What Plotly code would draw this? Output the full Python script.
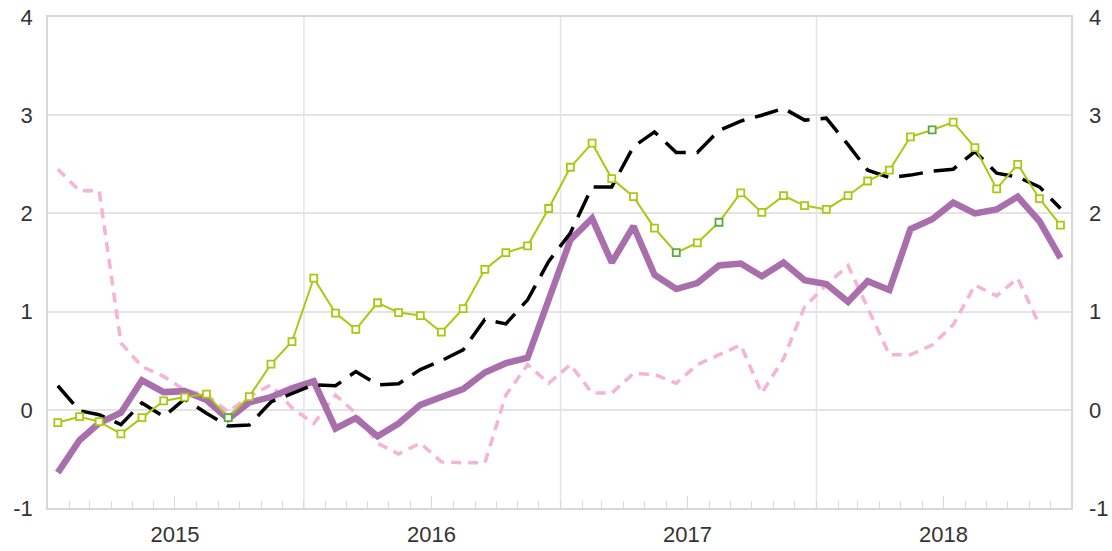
import pandas as pd
import plotly.graph_objects as go

# Monthly observations, Jan 2015 - Dec 2018
months = pd.date_range("2015-01-01", "2018-12-01", freq="MS") + pd.Timedelta(days=14)

purple_vals = [-0.64, -0.31, -0.135, -0.03, 0.30, 0.18, 0.19, 0.10, -0.095, 0.075, 0.13, 0.22,
               0.29, -0.19, -0.085, -0.27, -0.14, 0.05, 0.13, 0.21, 0.38, 0.475, 0.53, 1.12,
               1.73, 1.95, 1.50, 1.87, 1.375, 1.23, 1.29, 1.47, 1.49, 1.36, 1.50, 1.32,
               1.28, 1.10, 1.31, 1.22, 1.84, 1.94, 2.11, 2.00, 2.04, 2.17, 1.92, 1.545]

black_vals = [0.245, -0.01, -0.05, -0.15, 0.07, -0.07, 0.11, -0.035, -0.165, -0.155, 0.08, 0.17,
              0.255, 0.245, 0.39, 0.255, 0.265, 0.41, 0.50, 0.61, 0.92, 0.875, 1.12, 1.51,
              1.80, 2.27, 2.27, 2.68, 2.83, 2.62, 2.62, 2.845, 2.94, 3.00, 3.07, 2.95,
              2.97, 2.70, 2.44, 2.365, 2.39, 2.43, 2.45, 2.63, 2.41, 2.37, 2.27, 2.05]

green_vals = [-0.13, -0.07, -0.12, -0.245, -0.08, 0.09, 0.13, 0.16, -0.08, 0.135, 0.465, 0.695,
              1.34, 0.985, 0.82, 1.09, 0.99, 0.96, 0.79, 1.03, 1.43, 1.60, 1.67, 2.05,
              2.47, 2.715, 2.355, 2.17, 1.85, 1.60, 1.70, 1.91, 2.21, 2.01, 2.18, 2.08,
              2.04, 2.18, 2.33, 2.44, 2.78, 2.85, 2.93, 2.67, 2.25, 2.50, 2.15, 1.88]

pink_vals = [2.45, 2.23, 2.23, 0.68, 0.44, 0.34, 0.20, 0.15, -0.02, 0.135, 0.255, 0.02,
             -0.14, 0.15, -0.035, -0.34, -0.45, -0.34, -0.53, -0.54, -0.54, 0.15, 0.46, 0.27,
             0.46, 0.17, 0.17, 0.37, 0.36, 0.27, 0.46, 0.56, 0.66, 0.17, 0.52, 1.05,
             1.27, 1.47, 1.045, 0.56, 0.56, 0.66, 0.865, 1.27, 1.16, 1.34, 0.865, None]

# months whose green marker is highlighted
highlight_idx = [8, 29, 31, 41]

years = [2015, 2016, 2017, 2018]
y_ticks = [-1, 0, 1, 2, 3, 4]

GREEN = "#a9c80f"
GREEN_DARK = "#58aa3c"
PURPLE = "#a96fad"
PINK = "#f5b4d2"
GRID = "#e4e4e4"
FRAME = "#d8d8d8"
TEXT = "#333333"
FONT = "Liberation Sans"
FSIZE = 22

marker_line = [GREEN_DARK if i in highlight_idx else GREEN for i in range(len(green_vals))]

fig = go.Figure()
fig.add_trace(go.Scatter(x=months, y=pink_vals, mode="lines",
                         line=dict(color=PINK, width=3.5, dash="10px,7px"),
                         connectgaps=False, hoverinfo="skip"))
fig.add_trace(go.Scatter(x=months, y=purple_vals, mode="lines",
                         line=dict(color=PURPLE, width=6.5), hoverinfo="skip"))
fig.add_trace(go.Scatter(x=months, y=black_vals, mode="lines",
                         line=dict(color="#000000", width=3.5, dash="24px,11px"),
                         hoverinfo="skip"))
fig.add_trace(go.Scatter(x=months, y=green_vals, mode="lines+markers",
                         line=dict(color=GREEN, width=2),
                         marker=dict(symbol="square", size=7, color="white",
                                     line=dict(color=marker_line, width=1.8)),
                         hoverinfo="skip"))

x_range = ["2015-01-01", "2018-12-30"]
year_starts = [f"{y}-01-01" for y in years]
mid_years = [f"{y}-07-01" for y in years]

fig.update_layout(
    width=1112, height=551,
    margin=dict(l=48, r=41, t=17, b=43),
    paper_bgcolor="white", plot_bgcolor="white",
    showlegend=False,
    font=dict(family=FONT, size=FSIZE, color=TEXT),
    xaxis=dict(
        range=x_range, type="date", automargin=False,
        tickmode="array", tickvals=mid_years, ticktext=[str(y) for y in years],
        ticks="inside", ticklen=12, tickcolor=FRAME, tickwidth=1,
        showgrid=False, zeroline=False,
        showline=True, linecolor=FRAME, linewidth=1.5, mirror=True,
        minor=dict(tickmode="linear", tick0="2015-01-01", dtick="M1",
                   ticks="inside", ticklen=7, tickcolor=FRAME, tickwidth=1, showgrid=False),
        tickfont=dict(family=FONT, size=FSIZE, color=TEXT),
        ticklabelstandoff=6,
    ),
    yaxis=dict(
        range=[-1, 4], tickvals=y_ticks, ticktext=[str(v) for v in y_ticks],
        automargin=False,
        showgrid=True, gridcolor=GRID, gridwidth=1.5, zeroline=False,
        showline=True, linecolor=FRAME, linewidth=1.5, mirror=True,
        ticks="", ticklabelstandoff=9,
        tickfont=dict(family=FONT, size=FSIZE, color=TEXT),
    ),
    yaxis2=dict(
        range=[-1, 4], tickvals=y_ticks, ticktext=[str(v) for v in y_ticks],
        automargin=False,
        overlaying="y", side="right", showgrid=False, zeroline=False,
        ticks="", ticklabelstandoff=17,
        tickfont=dict(family=FONT, size=FSIZE, color=TEXT),
    ),
)

# vertical gridlines at the start of each year
for ys in year_starts[1:]:
    fig.add_shape(type="line", xref="x", yref="paper", x0=ys, x1=ys, y0=0, y1=1,
                  line=dict(color=GRID, width=1.5), layer="below")

# invisible trace so the right-hand axis is laid out
fig.add_trace(go.Scatter(x=[months[0]], y=[None], yaxis="y2", showlegend=False,
                         hoverinfo="skip"))

fig.write_html("out.html")
